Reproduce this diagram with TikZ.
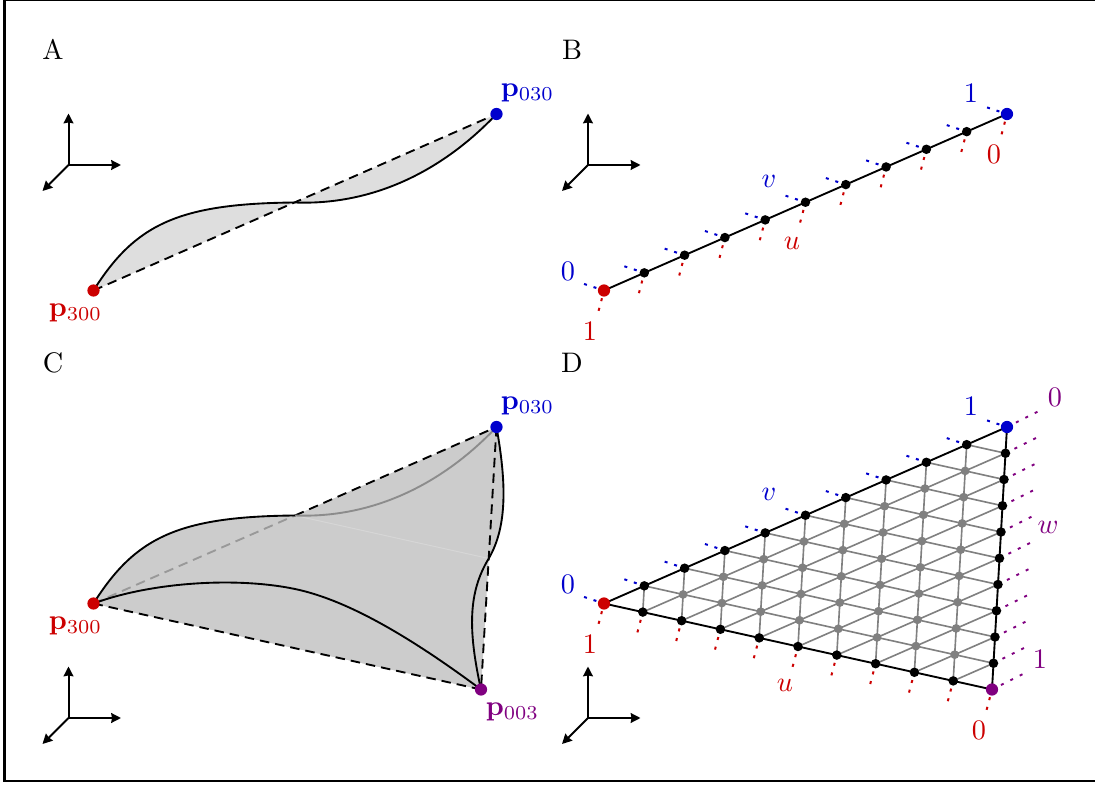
\documentclass[tikz,border=0pt]{standalone}
\usepackage{amsmath}
\usetikzlibrary{arrows.meta,calc,backgrounds}
\definecolor{cred}{RGB}{204,0,0}
\definecolor{cblue}{RGB}{0,0,205}
\definecolor{cpurple}{RGB}{128,0,128}
\tikzset{
  bigdot/.style={circle,inner sep=0pt,minimum size=4.9pt,fill=#1},
  blackdot/.style={circle,inner sep=0pt,minimum size=3.8pt,fill=black},
  graydot/.style={circle,inner sep=0pt,minimum size=3.5pt,fill=gray},
  edge/.style={line width=0.75pt,black},
  axis/.style={line width=0.8pt,-{Stealth[inset=0.3pt,length=3.9pt,width=3.9pt]}},
  dashline/.style={line width=0.75pt,dash pattern=on 3.8pt off 2.4pt},
  gridline/.style={line width=0.65pt,gray},
  rtick/.style={line width=0.8pt,cred,dash pattern=on 1.2pt off 2.8pt,dash phase=0.8pt},
  btick/.style={line width=0.8pt,cblue,dash pattern=on 1.2pt off 2.8pt,dash phase=0.8pt},
  ptick/.style={line width=0.8pt,cpurple,dash pattern=on 1.2pt off 3pt,dash phase=0.2pt},
  lab/.style={inner sep=0pt,scale=1.13}
}
\newcommand{\axesat}[3]{%
  \coordinate (#1o) at (#2,#3);
  \coordinate (#1u) at (#2,#3-51.5);
  \coordinate (#1r) at (#2+52.5,#3);
  \coordinate (#1d) at (#2-26,#3+26);
  \draw[axis] (#1o) -- (#1u);
  \draw[axis] (#1o) -- (#1r);
  \draw[axis] (#1o) -- (#1d);
}
\begin{document}
\begin{tikzpicture}[x=0.4pt,y=-0.4pt]
\useasboundingbox (0,-0.5) rectangle (1095,784.5);
\draw[line width=0.8pt] (4.5,0) rectangle (1110,781);

% labels
\node[lab] (la) at (53,49) {A};
\node[lab] (lb) at (572,49) {B};
\node[lab] (lc) at (53,362) {C};
\node[lab] (ld) at (572,362) {D};

\axesat{a}{68.5}{164.5}
\axesat{b}{588}{164.5}
\axesat{c}{68.5}{717.5}
\axesat{d}{588}{717.5}

% Panel A
\node[bigdot=cred] (a3) at (93.5,290) {};
\node[bigdot=cblue] (a0) at (496.5,113.5) {};
\coordinate (am) at (295,202);
\begin{scope}[on background layer]
\fill[black!13] (a3.center) .. controls (135,224) and (178,203) .. (am)
  .. controls (376,205) and (445,168) .. (a0.center) -- cycle;
\draw[edge] (a3.center) .. controls (135,224) and (178,203) .. (am)
  .. controls (376,205) and (445,168) .. (a0.center);
\draw[dashline] (a3.center) -- (a0.center);
\end{scope}
\node[lab,text=cred] (a3l) at (75.5,312) {$\mathbf{p}_{\mathrm{300}}$};
\node[lab,text=cblue] (a0l) at (527.5,92) {$\mathbf{p}_{\mathrm{030}}$};

% Panel B
\foreach \j in {0,...,10}{
  \pgfmathsetmacro{\px}{604+40.3*\j}
  \pgfmathsetmacro{\py}{290-17.65*\j}
  \ifnum\j=0 \node[bigdot=cred] (b\j) at (\px,\py) {};
  \else\ifnum\j=10 \node[bigdot=cblue] (b\j) at (\px,\py) {};
  \else \node[blackdot] (b\j) at (\px,\py) {};\fi\fi
  \coordinate (br\j) at (\px-5.7,\py+21.5);
  \coordinate (bb\j) at (\px-21,\py-6.9);
  \begin{scope}[on background layer]
    \draw[rtick] (b\j.center) -- (br\j);
    \draw[btick] (b\j.center) -- (bb\j);
  \end{scope}
}
\begin{scope}[on background layer]
\draw[edge] (b0.center) -- (b10.center);
\end{scope}
\node[lab,text=cblue] (bl0) at (568,271) {0};
\node[lab,text=cred] (bl1) at (590,331) {1};
\node[lab,text=cblue] (bl2) at (971,93) {1};
\node[lab,text=cred] (bl3) at (994,154) {0};
\node[lab,text=cblue] (blv) at (769,181) {$v$};
\node[lab,text=cred] (blu) at (792,243) {$u$};

% Panel C
\node[bigdot=cred] (c3) at (93.5,603) {};
\node[bigdot=cblue] (c0) at (496.5,426.5) {};
\node[bigdot=cpurple] (c4) at (481,689) {};
\coordinate (cm) at (295,515);
\coordinate (cn) at (488.75,558);
\coordinate (cq) at (295,588.5);
\begin{scope}[on background layer]
\fill[black!20] (c3.center) .. controls (135,537) and (178,516) .. (cm)
  .. controls (376,518) and (445,481) .. (c0.center)
  .. controls (506,480) and (508,525) .. (cn)
  .. controls (468,592) and (468,630) .. (c4.center) -- cycle;
\fill[black!20] (cm) -- (c0.center) -- (c4.center) -- (c3.center) -- cycle;
\draw[black!16,line width=0.4pt] (cm) -- (cn);
\draw[dashline,black!40] (c3.center) -- (cm);
\draw[dashline] (cm) -- (c0.center);
\draw[dashline] (c0.center) -- (c4.center);
\draw[dashline] (c3.center) -- (c4.center);
\draw[line width=0.75pt,black!45] (cm) .. controls (376,518) and (445,481) .. (c0.center);
\draw[edge] (c3.center) .. controls (135,537) and (178,516) .. (cm);
\draw[edge] (c3.center) .. controls (150,582) and (235,576) .. (cq)
  .. controls (350,600) and (415,640) .. (c4.center);
\draw[edge] (c0.center) .. controls (506,480) and (508,525) .. (cn)
  .. controls (468,592) and (468,630) .. (c4.center);
\end{scope}
\node[lab,text=cred] (c3l) at (75.5,625) {$\mathbf{p}_{\mathrm{300}}$};
\node[lab,text=cblue] (c0l) at (527.5,405) {$\mathbf{p}_{\mathrm{030}}$};
\node[lab,text=cpurple] (c4l) at (512.5,711) {$\mathbf{p}_{\mathrm{003}}$};

% Panel D
\foreach \i in {0,...,10}{
  \pgfmathtruncatemacro{\jmax}{10-\i}
  \foreach \j in {0,...,\jmax}{
    \pgfmathtruncatemacro{\k}{10-\i-\j}
    \pgfmathsetmacro{\px}{(\i*604+\j*1007+\k*992)/10}
    \pgfmathsetmacro{\py}{(\i*603+\j*426.5+\k*689)/10}
    \ifnum\i=10 \node[bigdot=cred] (d-\i-\j) at (\px,\py) {};
    \else\ifnum\j=10 \node[bigdot=cblue] (d-\i-\j) at (\px,\py) {};
    \else\ifnum\k=10 \node[bigdot=cpurple] (d-\i-\j) at (\px,\py) {};
    \else
      \ifnum\i=0 \node[blackdot] (d-\i-\j) at (\px,\py) {};
      \else\ifnum\j=0 \node[blackdot] (d-\i-\j) at (\px,\py) {};
      \else\ifnum\k=0 \node[blackdot] (d-\i-\j) at (\px,\py) {};
      \else \node[graydot] (d-\i-\j) at (\px,\py) {};
      \fi\fi\fi
    \fi\fi\fi
    \ifnum\j=0
      \coordinate (dr\i) at (\px-5.7,\py+21.5);
      \begin{scope}[on background layer]\draw[rtick] (d-\i-\j.center) -- (dr\i);\end{scope}
    \fi
    \ifnum\k=0
      \coordinate (db\i) at (\px-21,\py-6.9);
      \begin{scope}[on background layer]\draw[btick] (d-\i-\j.center) -- (db\i);\end{scope}
    \fi
    \ifnum\i=0
      \coordinate (dp\j) at (\px+30.4,\py-15.2);
      \begin{scope}[on background layer]\draw[ptick] (d-\i-\j.center) -- (dp\j);\end{scope}
    \fi
  }
}
\begin{scope}[on background layer]
\foreach \n in {1,...,9}{
  \pgfmathtruncatemacro{\m}{10-\n}
  \pgfmathtruncatemacro{\nn}{\n}
  \draw[gridline] (d-\nn-0.center) -- (d-\nn-\m.center);
  \draw[gridline] (d-0-\nn.center) -- (d-\m-\nn.center);
  \draw[gridline] (d-0-\m.center) -- (d-\m-0.center);
}
\draw[edge] (d-10-0.center) -- (d-0-10.center) -- (d-0-0.center) -- cycle;
\end{scope}
\node[lab,text=cblue] (dl0) at (568,584) {0};
\node[lab,text=cred] (dl1) at (590,644) {1};
\node[lab,text=cblue] (dl2) at (971,406) {1};
\node[lab,text=cpurple] (dl3) at (1055,397) {0};
\node[lab,text=cpurple] (dlw) at (1048,527) {$w$};
\node[lab,text=cpurple] (dl4) at (1040,659) {1};
\node[lab,text=cred] (dlu) at (785,685) {$u$};
\node[lab,text=cred] (dl5) at (979,730) {0};
\node[lab,text=cblue] (dlv) at (769,494) {$v$};
\end{tikzpicture}
\end{document}
